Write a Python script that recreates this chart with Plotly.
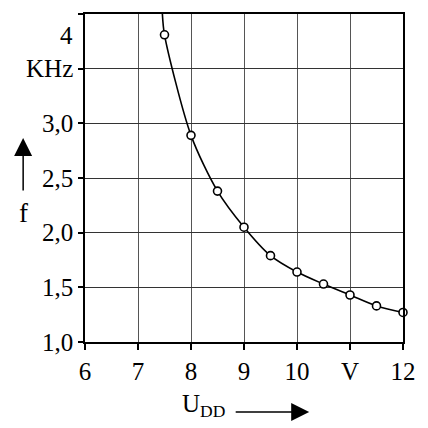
import plotly.graph_objects as go

# Data
u_dd = [7.5, 8.0, 8.5, 9.0, 9.5, 10.0, 10.5, 11.0, 11.5, 12.0]
f_khz = [3.81, 2.89, 2.38, 2.05, 1.79, 1.64, 1.53, 1.43, 1.33, 1.27]
curve_start_x = [7.46]
curve_start_y = [4.0]

x_tickvals = [6, 7, 8, 9, 10, 11, 12]
x_ticktext = ["6", "7", "8", "9", "10", "V", "12"]
y_tickvals = [1.0, 1.5, 2.0, 2.5, 3.0, 3.5, 4.0]
y_ticktext = ["1,0", "1,5", "2,0", "2,5", "3,0", "KHz", ""]
y_top_label = "4"
y_top_label_pos = 3.8

FONT = "Liberation Serif"

fig = go.Figure()
fig.add_trace(go.Scatter(
    x=curve_start_x + u_dd, y=curve_start_y + f_khz,
    mode="lines", line=dict(color="black", width=1.6, shape="spline", smoothing=0.8),
    hoverinfo="skip", cliponaxis=True))
fig.add_trace(go.Scatter(
    x=u_dd, y=f_khz, mode="markers",
    marker=dict(size=8, color="white", line=dict(color="black", width=1.6)),
    cliponaxis=False))

fig.update_layout(
    width=428, height=428,
    margin=dict(l=85, r=14, t=14, b=86),
    paper_bgcolor="white", plot_bgcolor="white",
    showlegend=False,
    font=dict(family=FONT, size=25, color="black"),
)
fig.update_xaxes(
    range=[6, 12], tickvals=x_tickvals, ticktext=x_ticktext,
    showgrid=True, gridcolor="#555", gridwidth=1,
    showline=True, linecolor="black", linewidth=1.5, mirror=True,
    ticks="outside", ticklen=6, tickwidth=1.5, tickcolor="black",
    zeroline=False, tickfont=dict(family=FONT, size=25),
)
fig.update_yaxes(
    range=[1, 4], tickvals=y_tickvals, ticktext=y_ticktext,
    showgrid=True, gridcolor="#333", gridwidth=1,
    showline=True, linecolor="black", linewidth=1.5, mirror=True,
    ticks="outside", ticklen=5, tickwidth=1.5, tickcolor="black",
    zeroline=False, tickfont=dict(family=FONT, size=25),
)

annotations = [
    dict(xref="paper", yref="y", x=-0.033, y=y_top_label_pos, text=y_top_label,
         showarrow=False, xanchor="right", yanchor="middle",
         font=dict(family=FONT, size=25)),
    # y-axis arrow and label
    dict(xref="paper", yref="paper", x=-0.1945, y=0.622, ax=0, ay=54,
         text="", showarrow=True, arrowhead=2, arrowsize=2.4, arrowwidth=1.5,
         arrowcolor="black"),
    dict(xref="paper", yref="paper", x=-0.1945, y=0.393, text="f",
         showarrow=False, xanchor="center", yanchor="middle",
         font=dict(family=FONT, size=27)),
    # x-axis arrow and label
    dict(xref="paper", yref="paper", x=0.705, y=-0.2134, ax=-75, ay=0,
         text="", showarrow=True, arrowhead=2, arrowsize=2.4, arrowwidth=1.5,
         arrowcolor="black"),
    dict(xref="paper", yref="paper", x=0.298, y=-0.14, text="U<sub>DD</sub>",
         showarrow=False, xanchor="left", yanchor="top",
         font=dict(family=FONT, size=25)),
]
fig.update_layout(annotations=annotations)

fig.write_html("out.html")
